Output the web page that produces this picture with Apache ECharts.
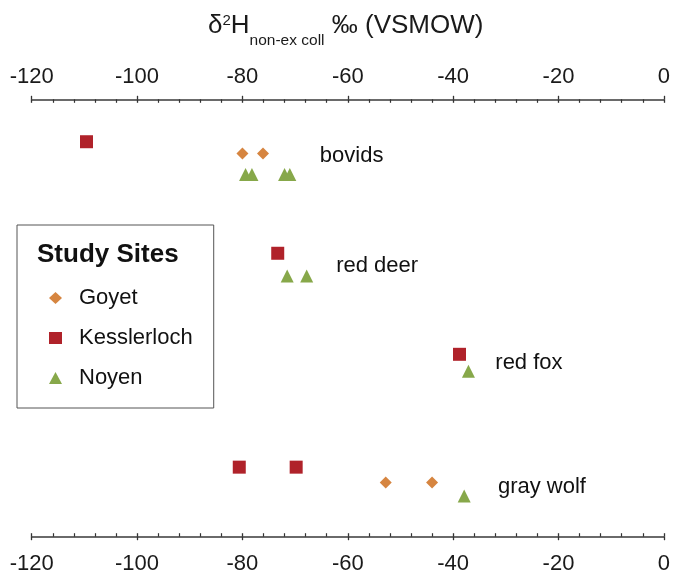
<!DOCTYPE html>
<html>
<head>
<meta charset="utf-8">
<script src="https://cdn.jsdelivr.net/npm/echarts@6/dist/echarts.min.js"></script>
<style>
html,body{margin:0;padding:0;background:#fff;}
#chart{width:673px;height:575px;}
</style>
</head>
<body>
<div id="chart"></div>
<script>
// ---- data ----
var siteNames = ['Goyet', 'Kesslerloch', 'Noyen'];
// [delta2H (permil), vertical row position]
var goyet = [[-80.0, 1.24], [-76.1, 1.24], [-52.8, 8.76], [-44.0, 8.76]];
var kesslerloch = [[-109.6, 0.97], [-73.3, 3.52], [-38.8, 5.83], [-80.6, 8.41], [-69.8, 8.41]];
var noyen = [[-79.4, 1.72], [-78.2, 1.72], [-72.0, 1.72], [-71.0, 1.72],
             [-71.5, 4.04], [-67.8, 4.04], [-37.1, 6.22], [-37.9, 9.07]];
var speciesNames = ['bovids', 'red deer', 'red fox', 'gray wolf'];
var speciesX = [-65.3, -62.2, -32.0, -31.5];
var speciesY = [1.30, 3.81, 6.03, 8.87];
var xTicks = [-120, -100, -80, -60, -40, -20, 0];

var FONT = '"Liberation Sans", Arial, Helvetica, sans-serif';
var colors = {Goyet: '#d68540', Kesslerloch: '#b0222a', Noyen: '#87a84a'};
var symbols = {Goyet: 'diamond', Kesslerloch: 'rect', Noyen: 'triangle'};
var sizes = {Goyet: 12, Kesslerloch: 13, Noyen: 13};
var seriesData = {Goyet: goyet, Kesslerloch: kesslerloch, Noyen: noyen};

var chart = echarts.init(document.getElementById('chart'));

function xAxisDef(pos, withLabels, inside) {
  return {
    type: 'value', position: pos, min: xTicks[0], max: xTicks[xTicks.length - 1], interval: 20,
    axisLine: {show: withLabels, onZero: false, lineStyle: {color: '#6a6a6a', width: 1.8}},
    axisTick: {show: true, inside: inside, length: 3.5, lineStyle: {color: '#333', width: 1.3}},
    minorTick: {show: withLabels, splitNumber: 5, length: 3.5, lineStyle: {color: '#333', width: 1.2}},
    axisLabel: {show: withLabels, fontSize: 22, color: '#1a1a1a', fontFamily: FONT,
                margin: pos === 'top' ? 11 : 16},
    splitLine: {show: false}
  };
}

var series = siteNames.map(function (name) {
  return {
    name: name, type: 'scatter', xAxisIndex: 0, yAxisIndex: 0,
    symbol: symbols[name], symbolSize: sizes[name],
    itemStyle: {color: colors[name], opacity: 1},
    data: seriesData[name], z: 3
  };
});
series.push({
  name: 'species', type: 'scatter', xAxisIndex: 0, yAxisIndex: 0,
  symbolSize: 0, silent: true, itemStyle: {opacity: 1},
  label: {show: true, position: 'right', distance: 0, fontSize: 22, color: '#111', opacity: 1,
          fontFamily: FONT, formatter: function (p) { return p.name; }},
  data: speciesNames.map(function (n, i) { return {name: n, value: [speciesX[i], speciesY[i]]}; })
});

chart.setOption({
  animation: false,
  backgroundColor: '#fff',
  textStyle: {fontFamily: FONT},
  title: [{
    left: 208, top: 13, padding: 0,
    text: '{m|δ}{sup|2}{m|H}{sub|non-ex coll}{m| ‰ (VSMOW)}',
    textStyle: {
      fontWeight: 'normal',
      rich: {
        m: {fontSize: 26, fontWeight: 'normal', verticalAlign: 'top', color: '#1a1a1a', fontFamily: FONT},
        sup: {fontSize: 15, fontWeight: 'normal', verticalAlign: 'top', padding: [0, 0, 0, 0], color: '#1a1a1a', fontFamily: FONT},
        sub: {fontSize: 15.5, fontWeight: 'normal', verticalAlign: 'top', padding: [20, 0, 0, 0], color: '#1a1a1a', fontFamily: FONT}
      }
    }
  }, {
    left: 37, top: 242, padding: 0,
    text: 'Study Sites',
    textStyle: {fontSize: 26, fontWeight: 'bold', color: '#111', fontFamily: FONT}
  }],
  legend: {
    data: siteNames, orient: 'vertical', left: 17, top: 225,
    padding: [62, 21, 19, 32], itemGap: 18,
    itemWidth: 13, itemHeight: 12, symbolKeepAspect: true,
    borderColor: '#555', borderWidth: 1,
    textStyle: {fontSize: 22, color: '#111', fontFamily: FONT, padding: [0, 0, 0, 12]}
  },
  grid: {left: 31.7, right: 7, top: 99.3, bottom: 38.3, containLabel: false},
  xAxis: [
    xAxisDef('top', true, true),
    xAxisDef('top', false, false),
    xAxisDef('bottom', true, true),
    xAxisDef('bottom', false, false)
  ],
  yAxis: {type: 'value', min: 0, max: 10, inverse: true, show: false},
  series: series
});
</script>
</body>
</html>
